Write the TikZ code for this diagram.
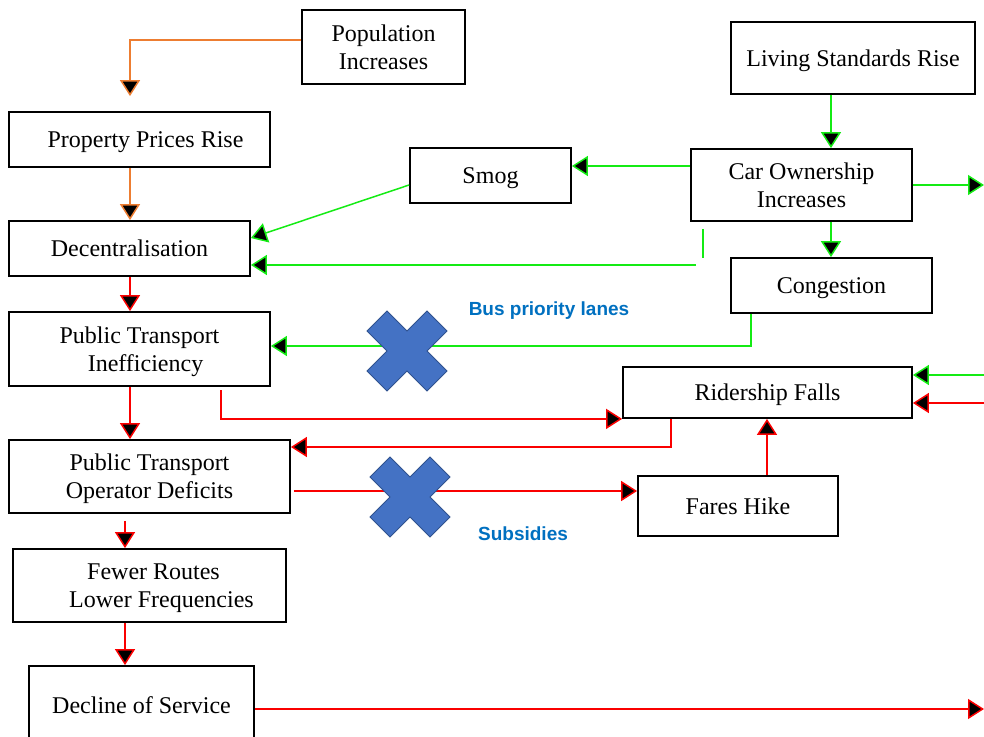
\documentclass[tikz,border=0pt]{standalone}
\usepackage{fontspec}
\setmainfont{Liberation Serif}
\newfontfamily\labelfont{Liberation Sans}
\usetikzlibrary{%
  arrows.meta,
  positioning
}
\definecolor{linkorange}{RGB}{237,125,49}
\definecolor{linkgreen}{RGB}{20,235,20}
\definecolor{linkred}{RGB}{250,0,0}
\definecolor{crossblue}{RGB}{68,114,196}
\definecolor{crossedge}{RGB}{47,82,143}
\definecolor{noteblue}{RGB}{0,112,192}

\begin{document}
\begin{tikzpicture}[x=0.5pt,y=-0.5pt,
    box/.style={draw,line width=0.9pt,align=center,inner sep=0pt,text depth=0pt,
      font=\fontsize{12}{14}\selectfont},
    lowbox/.style={box,text depth=-3pt},
    link/.style={line width=0.75pt,-{Triangle[length=8pt,width=10pt,fill=black]}},
    note/.style={text=noteblue,font=\labelfont\bfseries\fontsize{9.5}{11}\selectfont}]
    \def\blockcross(#1){
      \begin{scope}[shift={(#1)}]
        \filldraw[fill=crossblue,draw=crossedge,line width=0.5pt]
          (0,-20) -- (20,-40) -- (40,-20) -- (20,0) -- (40,20) -- (20,40)
          -- (0,20) -- (-20,40) -- (-40,20) -- (-20,0) -- (-40,-20) -- (-20,-40) -- cycle;
      \end{scope}
      }
  \useasboundingbox (0,0) rectangle (984,737);
  \clip (0,0) rectangle (984,737);

  \node[lowbox,minimum width=81.5pt,minimum height=37pt] (pop) at (383.5,47) {Population\\Increases};
  \node[box,minimum width=122pt,minimum height=36pt] (living) at (853,58) {Living Standards Rise};
  \node[box,minimum width=130.5pt,minimum height=27.5pt] (prop) at (139.5,139.5) {\hspace{6pt}Property Prices Rise};
  \node[box,minimum width=80.5pt,minimum height=27.5pt] (smog) at (490.5,175.5) {Smog};
  \node[lowbox,minimum width=110.5pt,minimum height=36pt] (car) at (801.5,185) {Car Ownership\\Increases};
  \node[box,minimum width=120.5pt,minimum height=27.5pt] (decent) at (129.5,248.5) {Decentralisation};
  \node[box,minimum width=100.5pt,minimum height=27.5pt] (cong) at (831.5,285.5) {Congestion};
  \node[box,minimum width=130.5pt,minimum height=37pt] (pti) at (139.5,349) {Public Transport\\ \ \ Inefficiency};
  \node[box,minimum width=144.5pt,minimum height=25.5pt] (rider) at (767.5,392.5) {Ridership Falls};
  \node[lowbox,minimum width=140.5pt,minimum height=36.5pt] (ptod) at (149.5,476.5) {Public Transport\\Operator Deficits};
  \node[box,minimum width=100pt,minimum height=30pt] (fares) at (738,506) {Fares Hike};
  \node[lowbox,minimum width=136.5pt,minimum height=36.5pt] (fewer) at (149.5,585.5) {\hspace{4pt}Fewer Routes\\\hspace{12pt}Lower Frequencies};
  \node[box,minimum width=112.5pt,minimum height=39pt] (decline) at (141.5,705) {Decline of Service};

  \coordinate (carout) at (984,185);
  \coordinate (greenin) at (984,375);
  \coordinate (redin) at (984,403);
  \coordinate (declout) at (984,709);
  \coordinate (stubtop) at (703,229);
  \coordinate (stubbot) at (703,258);
  \coordinate (greenstart) at (696,265);
  \coordinate (redstart) at (221,390);

  \draw[link,linkorange,shorten >=7.5pt] (pop.west |- 0,40) -| (prop.north -| 130,0);
  \draw[link,linkorange] (prop.south -| 130,0) -- (decent.north -| 130,0);

  \draw[link,linkgreen] (living.south -| 831,0) -- (car.north -| 831,0);
  \draw[link,linkgreen] (car.west |- 0,166) -- (smog.east |- 0,166);
  \draw[link,linkgreen] (car.east |- 0,185) -- (carout);
  \draw[link,linkgreen] (car.south -| 831,0) -- (cong.north -| 831,0);
  \draw[link,linkgreen] (smog.west |- 0,185) -- (decent.east |- 0,238);
  \draw[linkgreen,line width=0.75pt] (stubtop) -- (stubbot);
  \draw[link,linkgreen] (greenstart) -- (decent.east |- 0,265);
  \draw[link,linkgreen] (cong.south -| 751,0) |- (pti.east |- 0,346);
  \draw[link,linkgreen] (greenin) -- (rider.east |- 0,375);

  \draw[link,linkred] (decent.south -| 130,0) -- (pti.north -| 130,0);
  \draw[link,linkred] (pti.south -| 130,0) -- (ptod.north -| 130,0);
  \draw[link,linkred] (redstart) |- (rider.south west);
  \draw[link,linkred] (rider.south -| 671,0) |- (ptod.east |- 0,447);
  \draw[link,linkred,shorten <=1.5pt] (ptod.east |- 0,491) -- (fares.west |- 0,491);
  \draw[link,linkred] (fares.north -| 767,0) -- (rider.south -| 767,0);
  \draw[link,linkred] (redin) -- (rider.east |- 0,403);
  \draw[link,linkred,shorten <=3.5pt] (ptod.south -| 125,0) -- (fewer.north -| 125,0);
  \draw[link,linkred] (fewer.south -| 125,0) -- (decline.north -| 125,0);
  \draw[link,linkred] (decline.east |- 0,709) -- (declout);

  \blockcross(407,351)
  \blockcross(410,497)

  \node[note] (buslabel) at (549,311) {Bus priority lanes};
  \node[note] (sublabel) at (523,534) {Subsidies};
\end{tikzpicture}
\end{document}
